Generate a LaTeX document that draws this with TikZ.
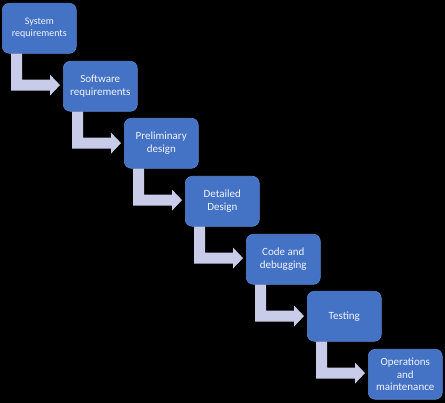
\documentclass[tikz,border=0pt]{standalone}
\usepackage{fontspec}
\setmainfont{Carlito}
\usetikzlibrary{calc}
\definecolor{boxblue}{HTML}{4472C4}
\definecolor{boxedge}{HTML}{5A84CE}
\definecolor{arrowc}{HTML}{C8CCE8}
\definecolor{txt}{HTML}{F2F4FC}
\tikzset{
  stepbox/.style={rectangle, rounded corners=7pt, fill=boxblue, draw=boxedge, line width=0.6pt,
    minimum width=74pt, minimum height=50pt, inner sep=1pt, align=center, text=txt,
    font=\fontsize{11}{12.5}\selectfont, anchor=north west},
  bentarrow/.style={fill=arrowc, draw=none}
}
\newcommand{\bentarr}[1]{%
  \fill[bentarrow] ($(#1.south west)+(9,0)$) -- ($(#1.south west)+(9,37)$) -- ($(#1.south west)+(48,37)$)
   -- ($(#1.south west)+(48,42)$) -- ($(#1.south west)+(58,31.5)$)
   -- ($(#1.south west)+(48,21)$) -- ($(#1.south west)+(48,26)$) -- ($(#1.south west)+(20,26)$)
   -- ($(#1.south west)+(20,0)$) -- cycle;}
\begin{document}
\begin{tikzpicture}[x=1pt,y=-1pt]
\fill[black] (0,0) rectangle (445,403);
\useasboundingbox (0,0) rectangle (445,403);
\node[stepbox, font=\fontsize{10}{11.5}\selectfont] (s1) at (2,3) {System\\requirements};
\node[stepbox] (s2) at (63,61) {Software\\requirements};
\node[stepbox] (s3) at (124,118) {Preliminary\\design};
\node[stepbox] (s4) at (185,176) {Detailed\\Design};
\node[stepbox] (s5) at (246,234) {Code and\\debugging};
\node[stepbox] (s6) at (307,291) {Testing};
\node[stepbox] (s7) at (368,349) {Operations\\and\\maintenance};
\bentarr{s1}
\bentarr{s2}
\bentarr{s3}
\bentarr{s4}
\bentarr{s5}
\bentarr{s6}
\end{tikzpicture}
\end{document}
